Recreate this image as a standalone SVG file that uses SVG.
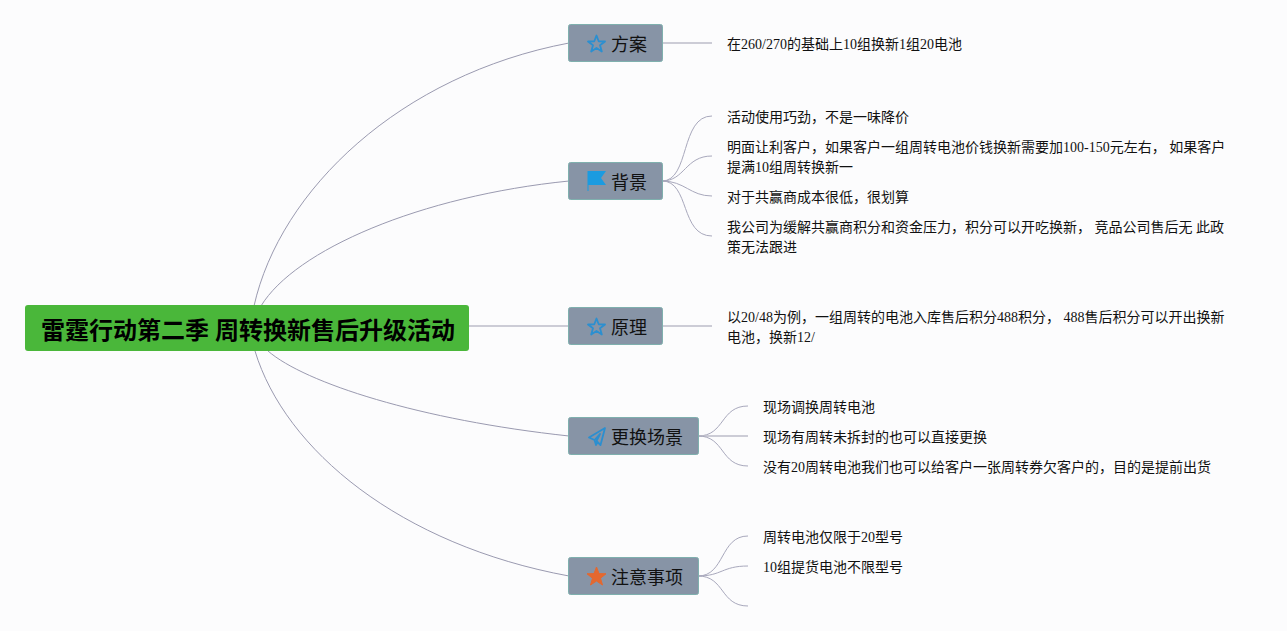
<svg xmlns="http://www.w3.org/2000/svg" width="1287" height="631" viewBox="0 0 1287 631">
<style>
text{font-family:"Liberation Serif","Noto Sans CJK SC",serif;fill:#111}
.leaf{font-size:14px}
.topic{font-size:18px;fill:#111}
.root{font-size:24px;font-weight:700;fill:#000}
.box{fill:#8794a6;stroke:#7fb0ae;stroke-width:1}
.c{fill:none;stroke:#9a9ab0;stroke-width:1}
.b{fill:none;stroke:#a8a8bc;stroke-width:1}
.s{fill:none;stroke:#bcbcc8;stroke-width:1.4}
.star{fill:none;stroke:#2b8fd0;stroke-width:1.800;stroke-linejoin:round}
</style>
<rect width="1287" height="631" fill="#fcfcfd"/>
<g id="connectors">
<path class="c" d="M254 306C280 190 400 75 569 43"/>
<path class="c" d="M261 306C295 250 420 196 569 181"/>
<path class="s" d="M469 326H569"/>
<path class="c" d="M268 351C305 383 420 420 569 436"/>
<path class="c" d="M255 351C285 450 400 545 569 576"/>
<path class="s" d="M662 43H712"/>
<path class="s" d="M662 326H712"/>
<path class="b" d="M662 181C690 181 680 116 712 116"/>
<path class="b" d="M662 181C685 181 685 156 712 156"/>
<path class="b" d="M662 181C685 181 690 196 712 196"/>
<path class="b" d="M662 181C690 181 680 236 712 236"/>
<path class="b" d="M698 436C725 436 720 406 748 406"/>
<path class="s" d="M698 436H748"/>
<path class="b" d="M698 436C725 436 720 466 748 466"/>
<path class="b" d="M698 576C725 576 720 536 748 536"/>
<path class="b" d="M698 576C722 576 722 566 748 566"/>
<path class="b" d="M698 576C725 576 720 606 748 606"/>
</g>
<g id="root">
<rect x="25" y="305" width="444" height="46" rx="3" fill="#4ab73a"/>
<text class="root" x="41" y="339">雷霆行动第二季 周转换新售后升级活动</text>
</g>
<g id="n-fangan">
<rect class="box" x="568.5" y="24.500" width="94" height="37" rx="2"/>
<path class="star" d="M596.500 35.500L598.700 41.300L605 41.500L600 45.300L601.800 51.500L596.500 48L591.200 51.500L593 45.300L588 41.500L594.300 41.300Z"/>
<text class="topic" x="611" y="51">方案</text>
</g>
<g id="n-beijing">
<rect class="box" x="568.5" y="162.500" width="94" height="37" rx="2"/>
<path d="M587.500 171H606L601 178L606 185H588.500V191H587.500Z" fill="#1b9be0"/>
<text class="topic" x="611" y="189">背景</text>
</g>
<g id="n-yuanli">
<rect class="box" x="568.5" y="307.500" width="94" height="37" rx="2"/>
<path class="star" d="M596.500 318.500L598.700 324.300L605 324.500L600 328.300L601.800 334.500L596.500 331L591.200 334.500L593 328.300L588 324.500L594.300 324.300Z"/>
<text class="topic" x="611" y="334">原理</text>
</g>
<g id="n-changjing">
<rect class="box" x="568.5" y="417.500" width="130" height="37" rx="2"/>
<path class="star" d="M605 428L589 437.500L594.500 440L600 434L596.500 441L600.500 445Z M594.500 440L596 445L597.500 442"/>
<text class="topic" x="611" y="444">更换场景</text>
</g>
<g id="n-zhuyi">
<rect class="box" x="568.5" y="557.500" width="130" height="37" rx="2"/>
<path d="M596.500 567L599 573.600L606 573.800L600.500 578.200L602.500 585L596.500 581L590.500 585L592.500 578.200L587 573.800L594 573.600Z" fill="#e4682f" stroke="#e4682f" stroke-linejoin="round"/>
<text class="topic" x="611" y="584">注意事项</text>
</g>
<g id="leaves">
<text class="leaf" x="727" y="49">在260/270的基础上10组换新1组20电池</text>
<text class="leaf" x="727" y="122">活动使用巧劲，不是一味降价</text>
<text class="leaf" x="727" y="152">明面让利客户，如果客户一组周转电池价钱换新需要加100-150元左右， 如果客户</text>
<text class="leaf" x="727" y="172">提满10组周转换新一</text>
<text class="leaf" x="727" y="202">对于共赢商成本很低，很划算</text>
<text class="leaf" x="727" y="232">我公司为缓解共赢商积分和资金压力，积分可以开吃换新， 竞品公司售后无 此政</text>
<text class="leaf" x="727" y="252">策无法跟进</text>
<text class="leaf" x="727" y="322">以20/48为例，一组周转的电池入库售后积分488积分， 488售后积分可以开出换新</text>
<text class="leaf" x="727" y="342">电池，换新12/</text>
<text class="leaf" x="763" y="412">现场调换周转电池</text>
<text class="leaf" x="763" y="442">现场有周转未拆封的也可以直接更换</text>
<text class="leaf" x="763" y="472">没有20周转电池我们也可以给客户一张周转券欠客户的，目的是提前出货</text>
<text class="leaf" x="763" y="542">周转电池仅限于20型号</text>
<text class="leaf" x="763" y="572">10组提货电池不限型号</text>
</g>
</svg>
